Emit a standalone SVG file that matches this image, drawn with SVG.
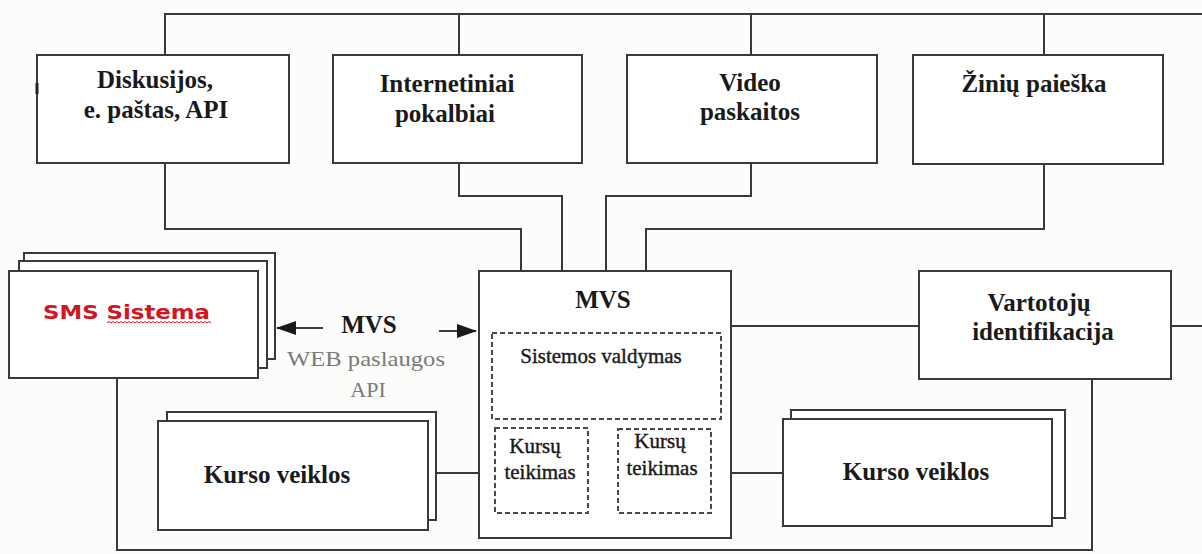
<svg xmlns="http://www.w3.org/2000/svg" width="1202" height="554" viewBox="0 0 1202 554">
<style>
.bx{fill:#fff;stroke:#3a3a3a;stroke-width:2}
.ln{fill:none;stroke:#3a3a3a;stroke-width:2}
.dash{fill:#fff;stroke:#4a4a4a;stroke-width:2;stroke-dasharray:5 3}
.tb{font-family:"Liberation Serif","Times New Roman",serif;font-weight:bold;font-size:25px;fill:#1a1a1a;text-anchor:middle}
.tr{font-family:"Liberation Serif","Times New Roman",serif;font-size:21px;fill:#1a1a1a;stroke:#1a1a1a;stroke-width:0.4;text-anchor:middle}
.tg{font-family:"Liberation Serif","Times New Roman",serif;font-size:22px;fill:#7a7a7a;text-anchor:middle}
</style>
<defs>
<marker id="ah" markerUnits="userSpaceOnUse" markerWidth="20" markerHeight="14" refX="19" refY="7" orient="auto">
<path d="M0,0 L20,7 L0,14 Z" fill="#1a1a1a"/>
</marker>
</defs>
<rect width="1202" height="554" fill="#fcfcfa"/>
<g id="connectors">
<path class="ln" d="M165,55 V14 H1202 M459,14 V55 M751,14 V55 M1044,14 V55"/>
<path class="ln" d="M165,163 V229 H521 V271"/>
<path class="ln" d="M459,163 V196 H562 V271"/>
<path class="ln" d="M751,163 V196 H606 V271"/>
<path class="ln" d="M1044,163 V229 H646 V271"/>
<path class="ln" d="M731,326 H919 M1171,326 H1202"/>
<path class="ln" d="M117,378 V550 H1092 V379"/>
<path class="ln" d="M436,473 H495 M711,473 H783"/>
<path fill="none" stroke="#666" stroke-width="1.5" d="M588,513 H618"/>
<line class="ln" x1="323" y1="328" x2="277" y2="328" marker-end="url(#ah)"/>
<line class="ln" x1="439" y1="331" x2="476" y2="331" marker-end="url(#ah)"/>
</g>
<g id="n-diskusijos">
<rect class="bx" x="37" y="55" width="252" height="108"/>
<path stroke="#222" stroke-width="3" d="M37,83 V94"/>
<text class="tb" x="155" y="88">Diskusijos,</text>
<text class="tb" x="156" y="118">e. paštas, API</text>
</g>
<g id="n-internetiniai">
<rect class="bx" x="333" y="55" width="249" height="108"/>
<text class="tb" x="447" y="92" font-size="24">Internetiniai</text>
<text class="tb" x="445" y="122" font-size="24">pokalbiai</text>
</g>
<g id="n-video">
<rect class="bx" x="627" y="55" width="250" height="108"/>
<text class="tb" x="750" y="91">Video</text>
<text class="tb" x="750" y="120">paskaitos</text>
</g>
<g id="n-ziniu">
<rect class="bx" x="913" y="55" width="250" height="109"/>
<text class="tb" x="1034" y="92">Žinių paieška</text>
</g>
<g id="n-sms">
<rect class="bx" x="24" y="253" width="251" height="106"/>
<rect class="bx" x="19" y="261" width="248" height="107"/>
<rect class="bx" x="9" y="271" width="249" height="107"/>
<text x="43" y="319" textLength="167" lengthAdjust="spacingAndGlyphs" font-family="'DejaVu Sans','Liberation Sans',sans-serif" font-weight="bold" font-size="19" fill="#d4141e">SMS Sistema</text>
<path fill="none" stroke="#d4141e" stroke-width="1" d="M107,323 l2,-1.5 l2,1.5 l2,-1.5 l2,1.5 l2,-1.5 l2,1.5 l2,-1.5 l2,1.5 l2,-1.5 l2,1.5 l2,-1.5 l2,1.5 l2,-1.5 l2,1.5 l2,-1.5 l2,1.5 l2,-1.5 l2,1.5 l2,-1.5 l2,1.5 l2,-1.5 l2,1.5 l2,-1.5 l2,1.5 l2,-1.5 l2,1.5 l2,-1.5 l2,1.5 l2,-1.5 l2,1.5 l2,-1.5 l2,1.5 l2,-1.5 l2,1.5 l2,-1.5 l2,1.5 l2,-1.5 l2,1.5 l2,-1.5 l2,1.5 l2,-1.5 l2,1.5 l2,-1.5 l2,1.5 l2,-1.5 l2,1.5 l2,-1.5 l2,1.5 l2,-1.5 l2,1.5 l2,-1.5 l2,1.5"/>
</g>
<g id="label-api">
<text class="tb" x="369" y="333" font-size="26">MVS</text>
<text class="tg" x="366" y="366" textLength="158" lengthAdjust="spacingAndGlyphs">WEB paslaugos</text>
<text class="tg" x="368" y="397">API</text>
</g>
<g id="n-mvs">
<rect class="bx" x="479" y="271" width="252" height="267"/>
<text class="tb" x="603" y="308" font-size="26">MVS</text>
</g>
<g id="n-sistemos">
<rect class="dash" x="492" y="333" width="229" height="86"/>
<text class="tr" x="601" y="363" font-size="20">Sistemos valdymas</text>
</g>
<g id="n-kursu1">
<rect class="dash" x="495" y="428" width="93" height="85"/>
<text class="tr" x="535" y="453">Kursų</text>
<text class="tr" x="540" y="479">teikimas</text>
</g>
<g id="n-kursu2">
<rect class="dash" x="618" y="429" width="93" height="84"/>
<text class="tr" x="660" y="448">Kursų</text>
<text class="tr" x="662" y="475">teikimas</text>
</g>
<g id="n-kurso-left">
<rect class="bx" x="167" y="412" width="269" height="108"/>
<rect class="bx" x="158" y="421" width="270" height="109"/>
<text class="tb" x="277" y="483">Kurso veiklos</text>
</g>
<g id="n-kurso-right">
<rect class="bx" x="791" y="410" width="274" height="108"/>
<rect class="bx" x="783" y="419" width="269" height="107"/>
<text class="tb" x="916" y="480">Kurso veiklos</text>
</g>
<g id="n-vartotoju">
<rect class="bx" x="919" y="271" width="252" height="108"/>
<text class="tb" x="1039" y="311">Vartotojų</text>
<text class="tb" x="1043" y="340">identifikacija</text>
</g>
</svg>
